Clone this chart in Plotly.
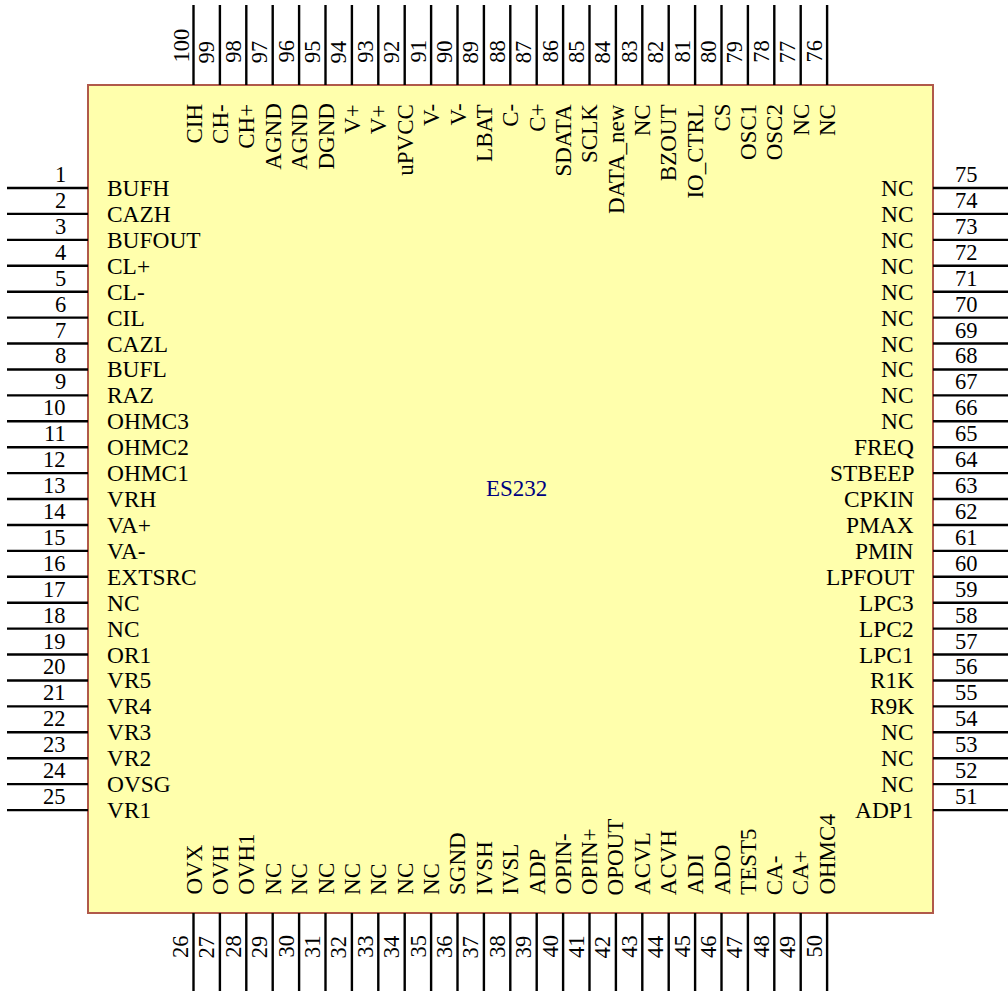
import plotly.graph_objects as go

TITLE = "ES232"
LEFT_NAMES = ["BUFH","CAZH","BUFOUT","CL+","CL-","CIL","CAZL","BUFL","RAZ","OHMC3","OHMC2","OHMC1","VRH","VA+","VA-","EXTSRC","NC","NC","OR1","VR5","VR4","VR3","VR2","OVSG","VR1"]
LEFT_NUMS = list(range(1, 26))
BOTTOM_NAMES = ["OVX","OVH","OVH1","NC","NC","NC","NC","NC","NC","NC","SGND","IVSH","IVSL","ADP","OPIN-","OPIN+","OPOUT","ACVL","ACVH","ADI","ADO","TEST5","CA-","CA+","OHMC4"]
BOTTOM_NUMS = list(range(26, 51))
RIGHT_NAMES = ["NC","NC","NC","NC","NC","NC","NC","NC","NC","NC","FREQ","STBEEP","CPKIN","PMAX","PMIN","LPFOUT","LPC3","LPC2","LPC1","R1K","R9K","NC","NC","NC","ADP1"]
RIGHT_NUMS = list(range(75, 50, -1))
TOP_NAMES = ["CIH","CH-","CH+","AGND","AGND","DGND","V+","V+","uPVCC","V-","V-","LBAT","C-","C+","SDATA","SCLK","DATA_new","NC","BZOUT","IO_CTRL","CS","OSC1","OSC2","NC","NC"]
TOP_NUMS = list(range(100, 75, -1))

# geometry of the package in page pixels
W, H = 1008, 991
BX0, BX1, BY0, BY1 = 88, 933, 85, 913
PX0, PSTEPX = 193.5, 26.4
PY0, PSTEPY = 188.0, 25.92
FONT = "Liberation Serif"
FS_H, FS_V, FS_NUM = 23.4, 23, 22.5
INK = "#000000"

fig = go.Figure()

def segs(pairs):
    xs, ys = [], []
    for (x0, y0, x1, y1) in pairs:
        xs += [x0, x1, None]
        ys += [y0, y1, None]
    return xs, ys

xpos = [PX0 + i * PSTEPX for i in range(25)]
ypos = [PY0 + i * PSTEPY for i in range(25)]

pairs = []
pairs += [(7, y, BX0, y) for y in ypos]
pairs += [(BX1, y, W, y) for y in ypos]
pairs += [(x, 5, x, BY0) for x in xpos]
pairs += [(x, BY1, x, H) for x in xpos]
px, py = segs(pairs)

fig.add_shape(type="rect", x0=BX0, x1=BX1, y0=BY0, y1=BY1, xref="x", yref="y",
              fillcolor="#FFFFAC", line=dict(color="#B0594A", width=2), layer="below")
fig.add_trace(go.Scatter(x=px, y=py, mode="lines", line=dict(color="#000000", width=2.4),
                         hoverinfo="skip", showlegend=False))

def note(x, y, text, xa, ya, angle=0, size=FS_H, color=INK):
    fig.add_annotation(x=x, y=y, xref="x", yref="y", text=text, showarrow=False,
                       xanchor=xa, yanchor=ya, textangle=angle, borderpad=0, borderwidth=0,
                       font=dict(family=FONT, size=size, color=color))

for y, name, num in zip(ypos, LEFT_NAMES, LEFT_NUMS):
    note(107, y, name, "left", "middle")
    note(66, y - 1, str(num), "right", "bottom", size=FS_NUM)
for y, name, num in zip(ypos, RIGHT_NAMES, RIGHT_NUMS):
    note(914, y, name, "right", "middle")
    note(955, y - 1, str(num), "left", "bottom", size=FS_NUM)
for x, name, num in zip(xpos, TOP_NAMES, TOP_NUMS):
    note(x, 104, name, "center", "top", -90, size=FS_V)
    note(x - 13, 63, str(num), "center", "bottom", -90, size=FS_NUM)
for x, name, num in zip(xpos, BOTTOM_NAMES, BOTTOM_NUMS):
    note(x, 895, name, "center", "bottom", -90, size=FS_V)
    note(x - 13, 958, str(num), "center", "bottom", -90, size=FS_NUM)
note(516, 488, TITLE, "center", "middle", color="#000080", size=23)

fig.update_layout(
    width=W, height=H, margin=dict(l=0, r=0, t=0, b=0), autosize=False,
    paper_bgcolor="#FFFFFF", plot_bgcolor="#FFFFFF", showlegend=False,
    xaxis=dict(range=[0, W], visible=False, fixedrange=True),
    yaxis=dict(range=[H, 0], visible=False, fixedrange=True),
)
fig.write_html("out.html", config={"displayModeBar": False},
               post_script="document.body.style.margin='0';document.documentElement.style.overflow='hidden';")
